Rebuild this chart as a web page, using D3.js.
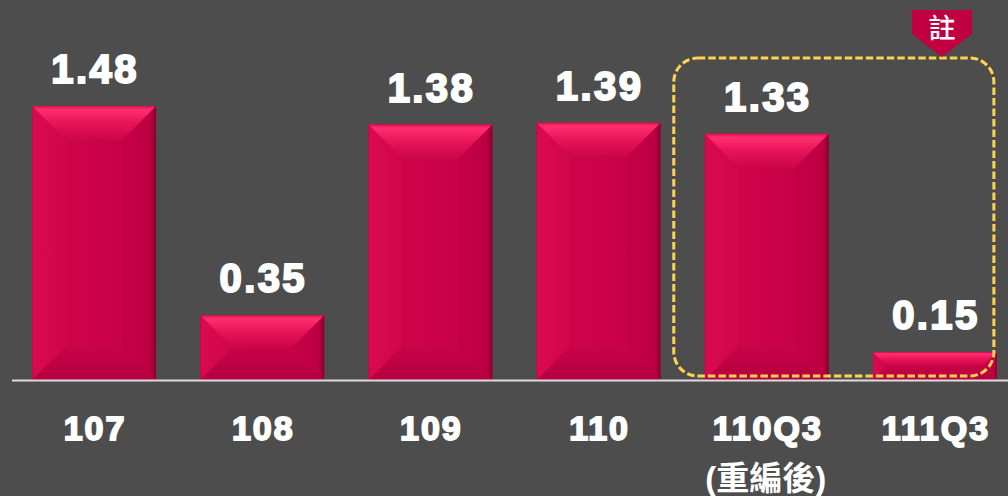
<!DOCTYPE html>
<html><head><meta charset="utf-8">
<script src="https://cdn.jsdelivr.net/npm/d3@7"></script>
<style>html,body{margin:0;padding:0;background:#4d4d4d;overflow:hidden}svg{display:block}
text{font-family:"Liberation Sans",Arial,sans-serif;font-weight:700;fill:#fff}</style></head>
<body><svg id="c" width="1008" height="496"></svg>
<script>
const categories=["107","108","109","110","110Q3","111Q3"];
const values=[1.48,0.35,1.38,1.39,1.33,0.15];
const subLabels=["","","","","(重編後)",""];
const noteLabel="註";

const svg=d3.select("#c");
const W=1008,H=496,baseY=380;
const x=d3.scaleBand().domain(categories).range([10,1019]).paddingInner(0.263).paddingOuter(0.1315);
const y=d3.scaleLinear().domain([0,1.48]).range([baseY,106]);

svg.append("rect").attr("width",W).attr("height",H).attr("fill","#4d4d4d");
const defs=svg.append("defs");
function grad(id,x2,y2,stops){
  const g=defs.append("linearGradient").attr("id",id).attr("x1",0).attr("y1",0).attr("x2",x2).attr("y2",y2);
  stops.forEach(s=>g.append("stop").attr("offset",s[0]).attr("stop-color",s[1]));
}
grad("gTop",0,1,[[0,"#e00d4c"],[0.1,"#ff2f6f"],[0.5,"#e8145a"],[1,"#cc0549"]]);
grad("gBot",0,1,[[0,"#c70346"],[1,"#b5003f"]]);
grad("gLeft",1,0,[[0,"#c8054a"],[0.06,"#d90a50"],[1,"#d0064a"]]);
grad("gRight",1,0,[[0,"#c50044"],[0.82,"#bd0042"],[0.96,"#950035"],[1,"#6e0a2e"]]);
grad("gMid",1,0,[[0,"#d2064b"],[1,"#c40044"]]);

const bars=svg.append("g").selectAll("g").data(categories).join("g");
bars.each(function(c,i){
  const g=d3.select(this);
  const l=x(c),r=l+x.bandwidth(),t=y(values[i]),b=y(0);
  const bev=Math.min(34,(b-t)/2);
  const poly=(pts,fill)=>g.append("polygon").attr("points",pts.map(p=>p.join(",")).join(" ")).attr("fill",fill);
  poly([[l,t],[r,t],[r,b],[l,b]],"url(#gMid)");
  poly([[l,t],[l+bev,t+bev],[l+bev,b-bev],[l,b]],"url(#gLeft)");
  poly([[r,t],[r-bev,t+bev],[r-bev,b-bev],[r,b]],"url(#gRight)");
  poly([[l,b],[l+bev,b-bev],[r-bev,b-bev],[r,b]],"url(#gBot)");
  poly([[l,t],[r,t],[r-bev,t+bev],[l+bev,t+bev]],"url(#gTop)");
});

svg.append("line").attr("x1",12).attr("x2",W).attr("y1",baseY+0.5).attr("y2",baseY+0.5)
  .attr("stroke","#dcdcdc").attr("stroke-width",2);

// value labels
svg.append("g").selectAll("text").data(categories).join("text")
  .attr("x",c=>x(c)+x.bandwidth()/2+1)
  .attr("y",(c,i)=>y(values[i])-23)
  .attr("text-anchor","middle").attr("font-size",40).attr("letter-spacing",2.4)
  .attr("stroke","#fff").attr("stroke-width",2)
  .text((c,i)=>values[i].toFixed(2));

// category labels
svg.append("g").selectAll("text").data(categories).join("text")
  .attr("x",c=>x(c)+x.bandwidth()/2+1)
  .attr("y",440)
  .attr("text-anchor","middle").attr("font-size",34).attr("letter-spacing",2)
  .attr("stroke","#fff").attr("stroke-width",1.8)
  .text(c=>c);
svg.append("g").selectAll("text").data(categories.filter((c,i)=>subLabels[i])).join("text")
  .attr("x",c=>x(c)+x.bandwidth()/2-1)
  .attr("y",490)
  .attr("text-anchor","middle").attr("font-size",33)
  .style("font-family",'"Liberation Sans","Noto Sans CJK TC",sans-serif')
  .text(c=>subLabels[categories.indexOf(c)]);

// highlight box
const x0=x("110Q3"),x1=x("111Q3")+x.bandwidth();
svg.append("rect").attr("x",x0-31).attr("y",y(1.48)-48).attr("width",x1-x0+31-3).attr("height",318)
  .attr("rx",24).attr("ry",24).attr("fill","none").attr("stroke","#ffd34f")
  .attr("stroke-width",3).attr("stroke-dasharray","7.5 3");

// note flag
const fx=x("111Q3")+x.bandwidth()/2+7;
const flag=svg.append("g").attr("transform",`translate(${fx},10)`);
flag.append("polygon").attr("points","-30,0 30,0 30,24 0,47 -30,24").attr("fill","#c00041");
flag.append("text").attr("x",0).attr("y",28).attr("text-anchor","middle").attr("font-size",27)
  .style("font-family",'"Noto Sans CJK TC",sans-serif').style("font-weight",500).text(noteLabel);
</script></body></html>
